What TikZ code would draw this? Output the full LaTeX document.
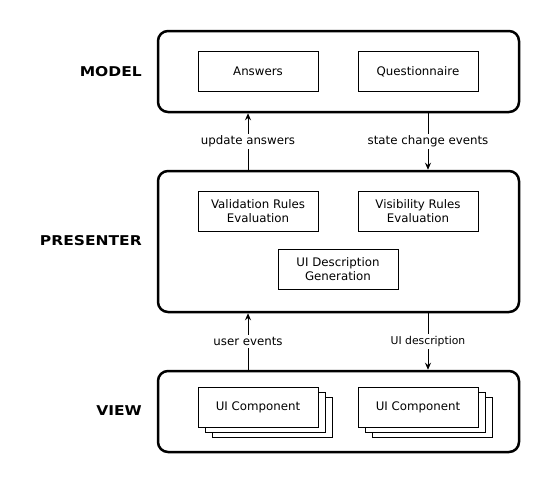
\documentclass[tikz,border=0pt]{standalone}
\usepackage{fontspec}
\setmainfont{DejaVu Sans}
\newfontfamily\namefont[FakeStretch=1.15]{DejaVu Sans}
\usetikzlibrary{arrows.meta}
\tikzset{
  layerbox/.style={draw, line width=2.5pt, rounded corners=10pt, inner sep=0pt},
  compbox/.style={draw, line width=1pt, fill=white, minimum width=120pt, minimum height=40pt, align=center, inner sep=0pt, font=\fontsize{11.8}{14}\selectfont},
  shadowbox/.style={draw, line width=1pt, fill=white, minimum width=120pt, minimum height=40pt, inner sep=0pt},
  arr/.style={line width=1pt, -{Stealth[length=7pt,width=6pt]}},
  lbl/.style={fill=white, inner sep=2pt, font=\fontsize{11.8}{14}\selectfont},
  lblsmall/.style={fill=white, inner sep=2pt, font=\fontsize{10.8}{13}\selectfont},
  layername/.style={anchor=east, font=\namefont\bfseries\fontsize{13.5}{16}\selectfont, inner sep=0pt}
}
\begin{document}
\begin{tikzpicture}[x=1pt,y=-1pt]
\useasboundingbox (0,0) rectangle (550,483);
% layers
\node[layerbox, minimum width=361pt, minimum height=81pt] (model) at (338.5,71.5) {};
\node[layerbox, minimum width=361pt, minimum height=141pt] (presenter) at (338.5,241.5) {};
\node[layerbox, minimum width=361pt, minimum height=81pt] (view) at (338.5,411.5) {};
% layer names
\node[layername] (mname) at (142,72) {MODEL};
\node[layername] (pname) at (142,241) {PRESENTER};
\node[layername] (vname) at (142,411) {VIEW};
% model components
\node[compbox] (answers) at (258,71.5) {Answers};
\node[compbox] (quest) at (418,71.5) {Questionnaire};
% presenter components
\node[compbox] (valid) at (258,211) {Validation Rules\\Evaluation};
\node[compbox] (visib) at (418,211) {Visibility Rules\\Evaluation};
\node[compbox] (uidesc) at (338,269) {UI Description\\Generation};
% view components
\node[shadowbox] (uia3) at (272,417) {};
\node[shadowbox] (uia2) at (265,412) {};
\node[compbox] (uia) at (258,407) {UI Component};
\node[shadowbox] (uib3) at (432,417) {};
\node[shadowbox] (uib2) at (425,412) {};
\node[compbox] (uib) at (418,407) {UI Component};
% connectors
\draw[arr] ([xshift=-90.5pt]presenter.north) -- node[lbl] (l1) {update answers} ([xshift=-90.5pt]model.south);
\draw[arr] ([xshift=89.5pt]model.south) -- node[lbl] (l2) {state change events} ([xshift=89.5pt]presenter.north);
\draw[arr] ([xshift=-90.5pt]view.north) -- node[lbl] (l3) {user events} ([xshift=-90.5pt]presenter.south);
\draw[arr] ([xshift=89.5pt]presenter.south) -- node[lblsmall] (l4) {UI description} ([xshift=89.5pt]view.north);
\end{tikzpicture}
\end{document}
